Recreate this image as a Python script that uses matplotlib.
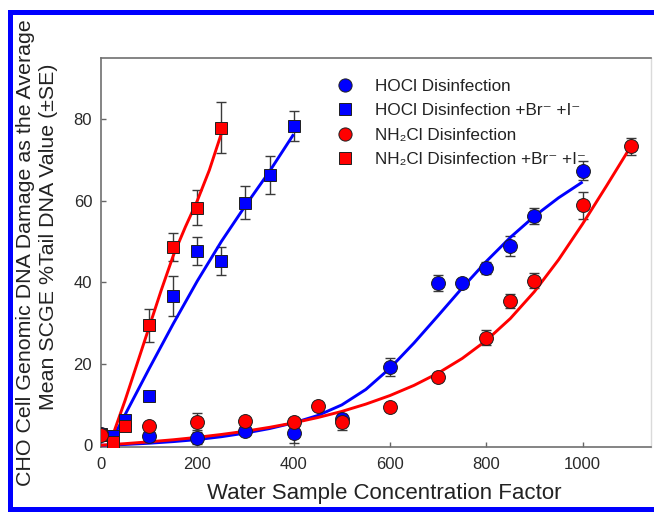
import matplotlib
matplotlib.use("Agg")
import matplotlib.pyplot as plt
from matplotlib.patches import Rectangle

plt.rcParams['font.family'] = ['Liberation Sans', 'DejaVu Sans']

# ---------------- data ----------------
hocl_x = [0, 100, 200, 300, 400, 500, 600, 700, 750, 800, 850, 900, 1000]
hocl_y = [2.8, 2.3, 1.7, 3.6, 3.1, 6.5, 19.2, 39.8, 39.8, 43.4, 48.9, 56.3, 67.4]
hocl_se = [0.8, 0.6, 1.5, 0.8, 2.5, 1.2, 2.2, 1.9, 1.0, 1.5, 2.5, 2.0, 2.4]

hoclbr_x = [0, 25, 50, 100, 150, 200, 250, 300, 350, 400]
hoclbr_y = [2.8, 2.2, 6.2, 12.2, 36.6, 47.7, 45.2, 59.5, 66.3, 78.4]
hoclbr_se = [0.5, 0.5, 0.8, 1.0, 4.9, 3.5, 3.5, 4.0, 4.7, 3.7]

nh2cl_x = [0, 100, 200, 300, 400, 450, 500, 600, 700, 800, 850, 900, 1000, 1100]
nh2cl_y = [2.5, 4.8, 5.8, 6.0, 5.6, 9.6, 5.6, 9.3, 16.7, 26.4, 35.4, 40.4, 58.9, 73.3]
nh2cl_se = [0.8, 0.8, 2.0, 0.8, 0.8, 0.8, 1.8, 1.0, 1.0, 1.8, 1.8, 1.8, 3.3, 2.0]

nh2clbr_x = [0, 25, 50, 100, 150, 200, 250]
nh2clbr_y = [2.4, 0.9, 4.7, 29.4, 48.6, 58.3, 77.9]
nh2clbr_se = [0.5, 0.5, 0.8, 4.0, 3.35, 4.35, 6.25]

# fitted curves
hocl_fit_x = [0, 50, 100, 150, 200, 250, 300, 350, 400, 450, 500, 550, 600, 650,
              700, 750, 800, 850, 900, 950, 1000]
hocl_fit_y = [0.0, 0.2, 0.5, 0.9, 1.4, 2.1, 3.0, 4.1, 5.5, 7.3, 9.9, 13.7, 18.9, 25.1,
              31.8, 38.6, 45.1, 51.0, 56.2, 60.7, 64.6]

nh2cl_fit_x = [0, 50, 100, 150, 200, 250, 300, 350, 400, 450, 500, 550, 600, 650,
               700, 750, 800, 850, 900, 950, 1000, 1050, 1100]
nh2cl_fit_y = [0.0, 0.4, 0.85, 1.35, 1.95, 2.65, 3.45, 4.4, 5.5, 6.8, 8.3, 10.1, 12.2,
               14.7, 17.7, 21.3, 25.7, 31.1, 37.7, 45.5, 54.3, 63.7, 73.3]

hoclbr_fit_x = [18, 50, 100, 150, 200, 250, 300, 350, 400]
hoclbr_fit_y = [0.3, 7.5, 18.8, 29.8, 40.3, 50.0, 58.8, 67.2, 76.3]

nh2clbr_fit_x = [18, 50, 75, 100, 125, 150, 175, 200, 225, 250]
nh2clbr_fit_y = [0.3, 11.0, 20.0, 29.0, 38.0, 46.5, 53.5, 60.0, 67.5, 76.5]

x_ticks = [0, 200, 400, 600, 800, 1000]
y_ticks = [0, 20, 40, 60, 80]

labels = ["HOCl Disinfection",
          "HOCl Disinfection +Br\u207b +I\u207b",
          "NH\u2082Cl Disinfection",
          "NH\u2082Cl Disinfection +Br\u207b +I\u207b"]

# ---------------- figure ----------------
W, H = 654, 512
fig = plt.figure(figsize=(W / 100, H / 100), dpi=100)
ax = fig.add_axes([100.5 / W, 1 - 446.7 / H, (651 - 100.5) / W, (446.7 - 58) / H])

BLUE = '#0000ff'
RED = '#ff0000'
ECOL = '#3a3a3a'

series = [
    (hoclbr_x, hoclbr_y, hoclbr_se, BLUE, 's', labels[1], hoclbr_fit_x, hoclbr_fit_y),
    (hocl_x, hocl_y, hocl_se, BLUE, 'o', labels[0], hocl_fit_x, hocl_fit_y),
    (nh2clbr_x, nh2clbr_y, nh2clbr_se, RED, 's', labels[3], nh2clbr_fit_x, nh2clbr_fit_y),
    (nh2cl_x, nh2cl_y, nh2cl_se, RED, 'o', labels[2], nh2cl_fit_x, nh2cl_fit_y),
]

handles = {}
for i, (x, y, se, col, mk, lab, fx, fy) in enumerate(series):
    ax.errorbar(x, y, yerr=se, fmt='none', ecolor=ECOL, elinewidth=1.0,
                capsize=3.6, capthick=1.0, zorder=2 + i * 0.1)
    ax.plot(fx, fy, color=col, lw=2.1, zorder=3 + i * 0.1, solid_capstyle='butt',
            solid_joinstyle='round')
    ms = 10 if mk == 'o' else 9.2
    h, = ax.plot(x, y, ls='none', marker=mk, ms=ms, mfc=col, mec='#202020',
                 mew=0.7, zorder=5 + i * 0.1, label=lab)
    handles[lab] = h

leg = ax.legend([handles[l] for l in labels], labels, loc='upper left',
                bbox_to_anchor=((336 - 100.5) / 550.5, (446.7 - 79) / 388.7),
                frameon=False, fontsize=12.3, handlelength=1.0, handletextpad=1.3,
                labelspacing=0.55, borderpad=0, borderaxespad=0, markerscale=0.95)
for t in leg.get_texts():
    t.set_color('#222222')

ax.set_xlim(-1, 1142)
ax.set_ylim(-0.35, 95)
ax.set_xticks(x_ticks)
ax.set_yticks(y_ticks)
ax.tick_params(direction='in', length=3.6, width=1.0, color='#666666',
               labelsize=12, labelcolor='#2a2a2a')
ax.tick_params(axis='x', pad=7.5)
ax.tick_params(axis='y', pad=6)
for s in ['left', 'bottom', 'top']:
    ax.spines[s].set_color('#707070')
    ax.spines[s].set_linewidth(1.2)
ax.spines['right'].set_color('#dadada')
ax.spines['right'].set_linewidth(1.0)

# axis labels
fig.text(384 / W, 1 - 493 / H, "Water Sample Concentration Factor",
         ha='center', va='center', fontsize=16, color='#222222')
fig.text(26 / W, 1 - 252.5 / H, "CHO Cell Genomic DNA Damage as the Average",
         ha='center', va='center', rotation=90, fontsize=15.4, color='#222222')
fig.text(49 / W, 1 - 237 / H, "Mean SCGE %Tail DNA Value (\u00b1SE)",
         ha='center', va='center', rotation=90, fontsize=15.4, color='#222222')

# blue frame (left, top, bottom)
def px_rect(x0, y0, x1, y1):
    fig.add_artist(Rectangle((x0 / W, 1 - y1 / H), (x1 - x0) / W, (y1 - y0) / H,
                             transform=fig.transFigure, facecolor=BLUE,
                             edgecolor='none', zorder=10))

px_rect(8, 10, 13, 512)
px_rect(8, 10, 654, 15)
px_rect(8, 507, 654, 512)

fig.savefig("out.png", dpi=100)
